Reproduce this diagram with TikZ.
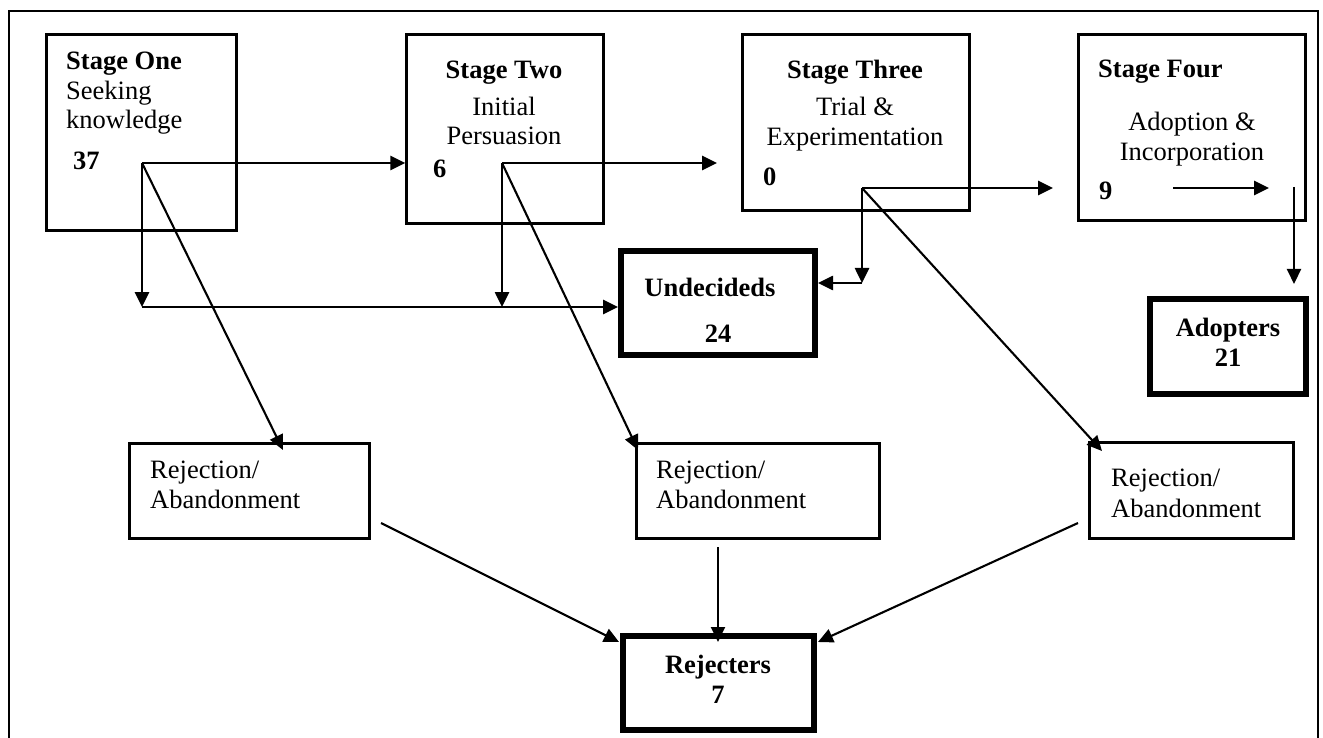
\documentclass[tikz,border=0pt]{standalone}
\usepackage{fontspec}
\setmainfont{Liberation Serif}
\usetikzlibrary{arrows.meta}
\begin{document}
\begin{tikzpicture}[x=1pt,y=-1pt,
  box/.style={draw, line width=2.2pt, inner sep=0pt},
  heavybox/.style={draw, line width=6pt, inner sep=0pt},
  txt/.style={inner sep=0pt, font=\fontsize{26.5}{30}\selectfont},
  btxt/.style={txt, font=\fontsize{26.5}{30}\selectfont\bfseries},
  arr/.style={line width=2.6pt, -{Triangle[length=15pt,width=14pt]}},
  thinarr/.style={line width=2.1pt, -{Triangle[length=15pt,width=14pt]}}
]
\useasboundingbox (0,0) rectangle (1323,738);

% outer frame, open at the bottom
\draw[line width=2pt] (9,738) -- (9,11) -- (1318,11) -- (1318,738);

% stage boxes
\node[box, minimum width=190pt, minimum height=196pt] (s1) at (141.5,132.5) {};
\node[box, minimum width=197pt, minimum height=189pt] (s2) at (505,129) {};
\node[box, minimum width=227pt, minimum height=176pt] (s3) at (856,122.5) {};
\node[box, minimum width=227pt, minimum height=186pt] (s4) at (1192,127.5) {};

% outcome boxes
\node[heavybox, minimum width=194pt, minimum height=104pt] (und) at (718,303) {};
\node[heavybox, minimum width=156pt, minimum height=95pt] (adopt) at (1228,346.5) {};
\node[heavybox, minimum width=191pt, minimum height=94pt] (rejt) at (718.5,683) {};

% rejection boxes
\node[box, minimum width=240pt, minimum height=95pt] (r1) at (249.5,491) {};
\node[box, minimum width=243pt, minimum height=95pt] (r2) at (758,491) {};
\node[box, minimum width=204pt, minimum height=96pt] (r3) at (1191.5,490.5) {};

% stage texts
\node[btxt, anchor=base west] (t1a) at (66,70) {Stage One};
\node[txt, anchor=base west] (t1b) at (66,100) {Seeking};
\node[txt, anchor=base west] (t1c) at (66,129) {knowledge};
\node[btxt, anchor=base west] (n1) at (73,170) {37};

\node[btxt, anchor=base] (t2a) at (504,79) {Stage Two};
\node[txt, anchor=base] (t2b) at (504,116) {Initial};
\node[txt, anchor=base] (t2c) at (504,145) {Persuasion};
\node[btxt, anchor=base west] (n2) at (433,178) {6};

\node[btxt, anchor=base] (t3a) at (855,79) {Stage Three};
\node[txt, anchor=base] (t3b) at (855,116) {Trial \&};
\node[txt, anchor=base] (t3c) at (855,146) {Experimentation};
\node[btxt, anchor=base west] (n3) at (763,186) {0};

\node[btxt, anchor=base west] (t4a) at (1098,78) {Stage Four};
\node[txt, anchor=base] (t4b) at (1192,131) {Adoption \&};
\node[txt, anchor=base] (t4c) at (1192,161) {Incorporation};
\node[btxt, anchor=base west] (n4) at (1099,200) {9};

% outcome texts
\node[btxt, anchor=base] (tu) at (710,297) {Undecideds};
\node[btxt, anchor=base] (nu) at (718,342) {24};
\node[btxt, anchor=base] (ta) at (1228,336) {Adopters};
\node[btxt, anchor=base] (na) at (1228,366) {21};
\node[btxt, anchor=base] (tr) at (718,673) {Rejecters};
\node[btxt, anchor=base] (nr) at (718,703) {7};

% rejection texts
\node[txt, anchor=base west] (r1a) at (150,478) {Rejection/};
\node[txt, anchor=base west] (r1b) at (150,508) {Abandonment};
\node[txt, anchor=base west] (r2a) at (656,478) {Rejection/};
\node[txt, anchor=base west] (r2b) at (656,508) {Abandonment};
\node[txt, anchor=base west] (r3a) at (1111,486) {Rejection/};
\node[txt, anchor=base west] (r3b) at (1111,517) {Abandonment};

% branching points and free ends
\coordinate (o1) at (142,163);
\coordinate (j1) at (142,307);
\coordinate (o2) at (502,163);
\coordinate (j2) at (502,307);
\coordinate (e2) at (717,163);
\coordinate (o3) at (862,188);
\coordinate (j3) at (862,283);
\coordinate (e3) at (1053,188);
\coordinate (o4) at (1173,188);
\coordinate (e4) at (1269,188);
\coordinate (d4) at (1294,187);
\coordinate (f4) at (1294,284);
\coordinate (in1) at (283,450);
\coordinate (in2) at (638,450);
\coordinate (in3) at (1102,451);
\coordinate (q1) at (381,523);
\coordinate (q2) at (718,547);
\coordinate (q3) at (1078,523);
\coordinate (p1) at (619,642);
\coordinate (p3) at (818,642);

% stage one
\draw[arr] (o1) -- (o1 -| s2.west);
\draw[arr] (o1) -- (j1);
\draw[arr] (j1) -- (j1 -| und.west);
\draw[thinarr] (o1) -- (in1);

% stage two
\draw[arr] (o2) -- (e2);
\draw[arr] (o2) -- (j2);
\draw[thinarr] (o2) -- (in2);

% stage three
\draw[arr] (o3) -- (e3);
\draw[arr] (o3) -- (j3);
\draw[arr] (j3) -- (j3 -| und.east);
\draw[thinarr] (o3) -- (in3);

% stage four
\draw[arr] (o4) -- (e4);
\draw[thinarr] (d4) -- (f4);

% rejections to rejecters
\draw[thinarr] (q1) -- (p1);
\draw[thinarr] (q2) -- (q2 |- p1);
\draw[thinarr] (q3) -- (p3);
\end{tikzpicture}
\end{document}
